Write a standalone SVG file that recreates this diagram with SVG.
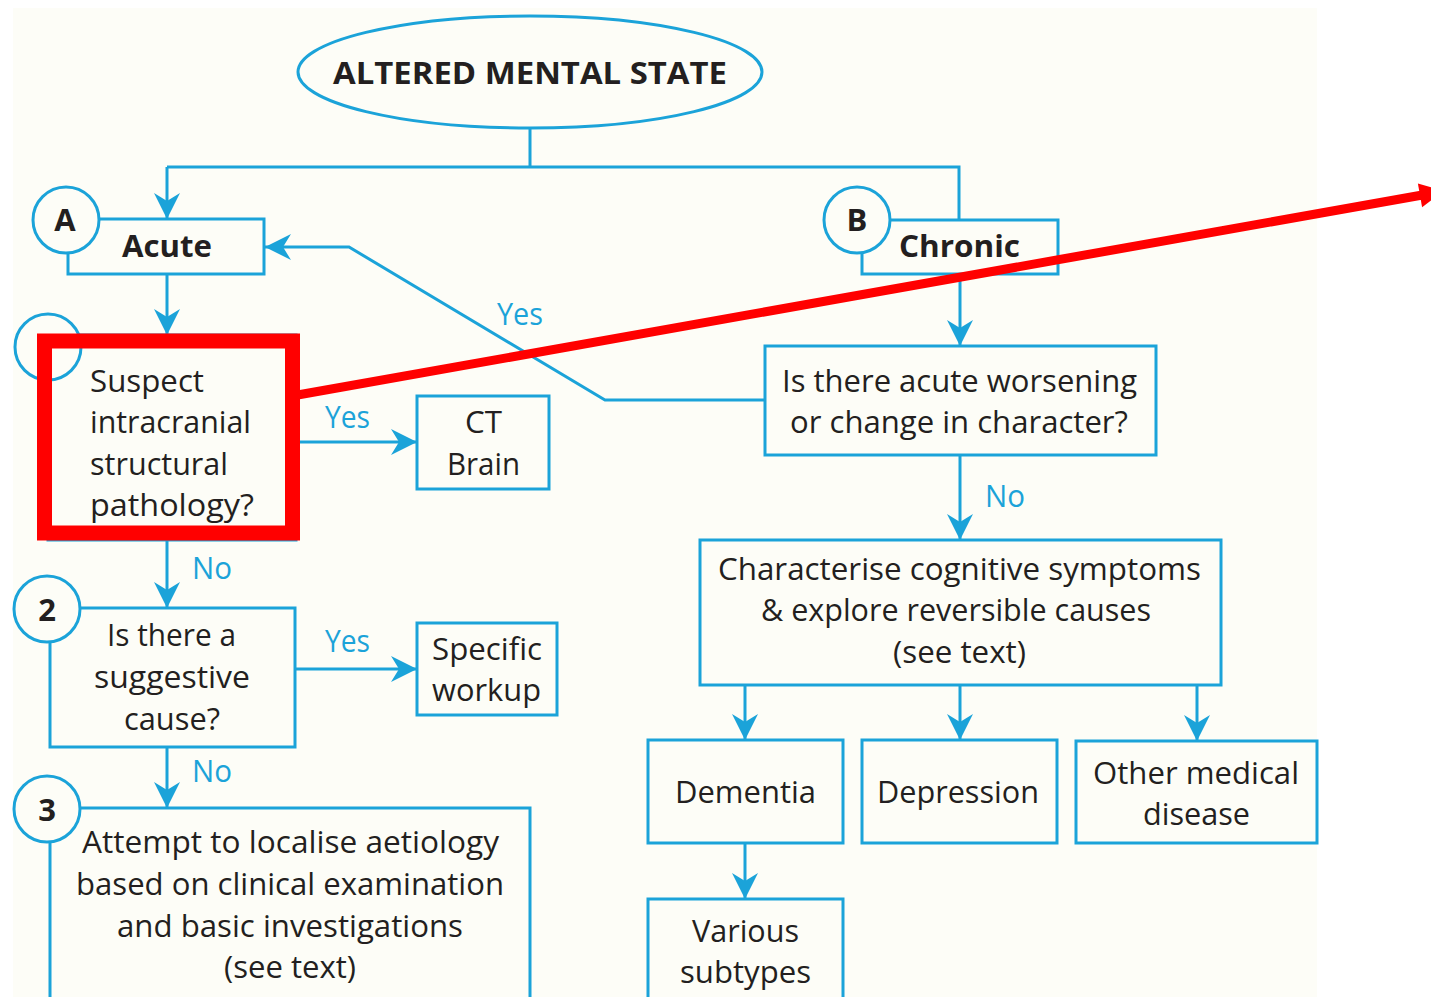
<svg xmlns="http://www.w3.org/2000/svg" width="1431" height="997" viewBox="0 0 1431 997">
<defs>
<style>
.bg{fill:#fdfdf7}
.box{fill:none;stroke:#1ba3d9;stroke-width:3}
.num{fill:#fdfdf7;stroke:#1ba3d9;stroke-width:3}
.con{fill:none;stroke:#1ba3d9;stroke-width:3}
.arr{marker-end:url(#ah)}
text{font-family:"Open Sans","Liberation Sans",sans-serif;font-size:31px;fill:#231f20}
.b{font-weight:bold}
.lbl{fill:#1ba3d9}
.mid{text-anchor:middle}
</style>
<marker id="ah" markerUnits="userSpaceOnUse" viewBox="0 0 26 26" refX="26" refY="13" markerWidth="26" markerHeight="26" orient="auto">
<path d="M0,0 L26,13 L0,26 L8,13 Z" fill="#1ba3d9"/>
</marker>
</defs>
<rect x="0" y="0" width="1431" height="997" fill="#ffffff"/>
<rect class="bg" x="13" y="8" width="1304" height="989"/>

<g id="connectors">
<path class="con" d="M530,128 V167 M167,167 H959 V220"/>
<path class="con arr" d="M167,167 V219"/>
<path class="con arr" d="M167,275 V335"/>
<path class="con arr" d="M960,274 V346"/>
<path class="con arr" d="M765,400 H605 L349,247 H265"/>
<text class="lbl" x="497" y="325" textLength="46" lengthAdjust="spacingAndGlyphs">Yes</text>
<path class="con arr" d="M296,442 H417"/>
<text class="lbl" x="325" y="428" textLength="45" lengthAdjust="spacingAndGlyphs">Yes</text>
<path class="con arr" d="M167,540 V608"/>
<text class="lbl" x="192" y="579" textLength="40" lengthAdjust="spacingAndGlyphs">No</text>
<path class="con arr" d="M295,669 H417"/>
<text class="lbl" x="325" y="652" textLength="45" lengthAdjust="spacingAndGlyphs">Yes</text>
<path class="con arr" d="M167,747 V808"/>
<text class="lbl" x="192" y="782" textLength="40" lengthAdjust="spacingAndGlyphs">No</text>
<path class="con arr" d="M960,455 V540"/>
<text class="lbl" x="985" y="507" textLength="40" lengthAdjust="spacingAndGlyphs">No</text>
<path class="con arr" d="M745,685 V740"/>
<path class="con arr" d="M960,685 V740"/>
<path class="con arr" d="M1197,685 V741"/>
<path class="con arr" d="M745,843 V899"/>
</g>

<g id="altered-mental-state">
<ellipse class="box" cx="530" cy="72" rx="232" ry="56"/>
<text class="b" x="333" y="84" font-size="32" textLength="394" lengthAdjust="spacingAndGlyphs">ALTERED MENTAL STATE</text>
</g>

<g id="acute">
<rect class="box" x="68" y="219" width="196" height="55"/>
<circle class="num" cx="66" cy="220" r="33"/>
<text class="b mid" x="65" y="231">A</text>
<text class="b" x="122" y="257" textLength="90" lengthAdjust="spacingAndGlyphs">Acute</text>
</g>

<g id="chronic">
<rect class="box" x="862" y="220" width="196" height="54"/>
<circle class="num" cx="857" cy="220" r="33"/>
<text class="b mid" x="857" y="231">B</text>
<text class="b" x="899" y="257" textLength="121" lengthAdjust="spacingAndGlyphs">Chronic</text>
</g>

<g id="acute-worsening">
<rect class="box" x="765" y="346" width="391" height="109"/>
<text x="782" y="392" textLength="355" lengthAdjust="spacingAndGlyphs">Is there acute worsening</text>
<text x="790" y="433" textLength="338" lengthAdjust="spacingAndGlyphs">or change in character?</text>
</g>

<g id="suspect">
<rect class="box" x="48" y="335" width="248" height="205"/>
<circle class="num" cx="48" cy="347" r="33"/>
<text x="90" y="392" textLength="114" lengthAdjust="spacingAndGlyphs">Suspect</text>
<text x="90" y="433" textLength="161" lengthAdjust="spacingAndGlyphs">intracranial</text>
<text x="90" y="475" textLength="138" lengthAdjust="spacingAndGlyphs">structural</text>
<text x="90" y="516" textLength="164" lengthAdjust="spacingAndGlyphs">pathology?</text>
</g>

<g id="ct-brain">
<rect class="box" x="417" y="396" width="132" height="93"/>
<text x="465" y="433" textLength="37" lengthAdjust="spacingAndGlyphs">CT</text>
<text x="447" y="475" textLength="73" lengthAdjust="spacingAndGlyphs">Brain</text>
</g>

<g id="suggestive-cause">
<rect class="box" x="50" y="608" width="245" height="139"/>
<circle class="num" cx="47" cy="609" r="33"/>
<text class="b mid" x="47" y="621">2</text>
<text x="107" y="646" textLength="129" lengthAdjust="spacingAndGlyphs">Is there a</text>
<text x="94" y="688" textLength="156" lengthAdjust="spacingAndGlyphs">suggestive</text>
<text x="124" y="730" textLength="96" lengthAdjust="spacingAndGlyphs">cause?</text>
</g>

<g id="specific-workup">
<rect class="box" x="417" y="623" width="140" height="92"/>
<text x="432" y="660" textLength="110" lengthAdjust="spacingAndGlyphs">Specific</text>
<text x="432" y="701" textLength="109" lengthAdjust="spacingAndGlyphs">workup</text>
</g>

<g id="localise">
<path class="box" d="M50,1000 V808 H530 V1000"/>
<circle class="num" cx="47" cy="809" r="33"/>
<text class="b mid" x="47" y="821">3</text>
<text x="82" y="853" textLength="417" lengthAdjust="spacingAndGlyphs">Attempt to localise aetiology</text>
<text x="76" y="895" textLength="428" lengthAdjust="spacingAndGlyphs">based on clinical examination</text>
<text x="117" y="937" textLength="346" lengthAdjust="spacingAndGlyphs">and basic investigations</text>
<text x="224" y="978" textLength="132" lengthAdjust="spacingAndGlyphs">(see text)</text>
</g>

<g id="characterise">
<rect class="box" x="700" y="540" width="521" height="145"/>
<text x="718" y="580" textLength="483" lengthAdjust="spacingAndGlyphs">Characterise cognitive symptoms</text>
<text x="761" y="621" textLength="390" lengthAdjust="spacingAndGlyphs">&amp; explore reversible causes</text>
<text x="893" y="663" textLength="133" lengthAdjust="spacingAndGlyphs">(see text)</text>
</g>

<g id="dementia">
<rect class="box" x="648" y="740" width="195" height="103"/>
<text x="675" y="803" textLength="141" lengthAdjust="spacingAndGlyphs">Dementia</text>
</g>

<g id="depression">
<rect class="box" x="862" y="740" width="195" height="103"/>
<text x="877" y="803" textLength="162" lengthAdjust="spacingAndGlyphs">Depression</text>
</g>

<g id="other-medical">
<rect class="box" x="1076" y="741" width="241" height="102"/>
<text x="1093" y="784" textLength="206" lengthAdjust="spacingAndGlyphs">Other medical</text>
<text x="1143" y="825" textLength="107" lengthAdjust="spacingAndGlyphs">disease</text>
</g>

<g id="various-subtypes">
<path class="box" d="M648,1000 V899 H843 V1000"/>
<text x="692" y="942" textLength="107" lengthAdjust="spacingAndGlyphs">Various</text>
<text x="680" y="983" textLength="131" lengthAdjust="spacingAndGlyphs">subtypes</text>
</g>

<g id="annotation">
<rect x="44.5" y="341" width="248" height="192" fill="none" stroke="#ff0000" stroke-width="15"/>
<line x1="292" y1="396" x2="1421" y2="195.2" stroke="#ff0000" stroke-width="9"/>
<polygon points="1444,191 1422.1,207.2 1417.9,183.6" fill="#ff0000"/>
</g>
</svg>
